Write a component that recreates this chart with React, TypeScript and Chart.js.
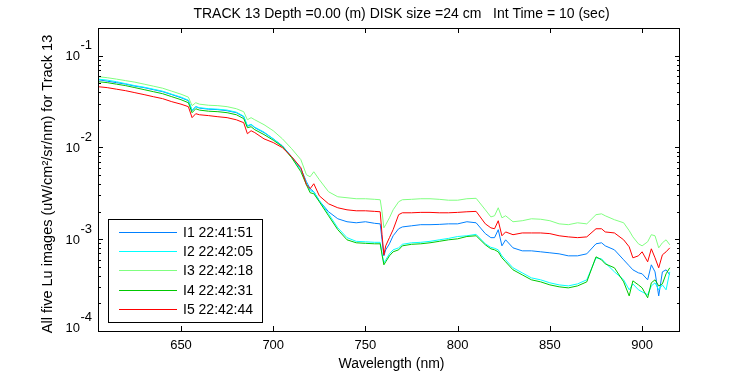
import React, { useEffect, useRef } from "react";
import { Chart, registerables } from "chart.js";

Chart.register(...registerables);

const wavelengths = [
  605, 610, 615, 620, 625, 630, 635, 640, 645, 650,
  654, 656, 658, 660, 665, 670, 675, 680, 684, 686,
  688, 690, 695, 700, 705, 710, 715, 718, 720, 722,
  725, 730, 735, 740, 745, 750, 755, 758, 759, 760,
  761, 763, 765, 768, 770, 775, 780, 785, 790, 795,
  800, 805, 810, 815, 818, 820, 822, 824, 826, 830,
  835, 840, 845, 850, 855, 860, 865, 870, 875, 878,
  880, 885, 890, 893, 895, 898, 900, 903, 905, 907,
  909, 911, 913, 915,
];

const i1Values = [
  0.0547, 0.0527, 0.0508, 0.0489, 0.0465, 0.0448, 0.0426, 0.0405, 0.0376, 0.0348,
  0.0323, 0.0251, 0.0278, 0.0268, 0.0261, 0.0258, 0.0251, 0.0239, 0.0216, 0.0170,
  0.0177, 0.0164, 0.0145, 0.0124, 0.0104, 0.00792, 0.00586, 0.00423, 0.00355, 0.00329,
  0.00262, 0.00199, 0.00167, 0.00155, 0.00151, 0.00155, 0.00149, 0.00147, 0.000985, 0.000659,
  0.000766, 0.000891, 0.00109, 0.0013, 0.00136, 0.0014, 0.00144, 0.00144, 0.00145, 0.00147,
  0.00147, 0.00155, 0.00151, 0.00115, 0.00104, 0.00104, 0.00127, 0.000847, 0.000985, 0.000805,
  0.000747, 0.000747, 0.000729, 0.000711, 0.000693, 0.000659, 0.000659, 0.000693, 0.000891, 0.000914,
  0.000847, 0.000766, 0.000596, 0.000513, 0.000464, 0.00043, 0.00042, 0.000361, 0.000526, 0.000441,
  0.000241, 0.000441, 0.000464, 0.000409,
];

const i2Values = [
  0.0555, 0.0541, 0.052, 0.0495, 0.0471, 0.0453, 0.0431, 0.041, 0.038, 0.0353,
  0.0327, 0.0255, 0.0278, 0.0271, 0.0264, 0.0261, 0.0255, 0.0242, 0.0219, 0.0172,
  0.0179, 0.0166, 0.0147, 0.0124, 0.0103, 0.00782, 0.00571, 0.00412, 0.00337, 0.00329,
  0.00262, 0.00189, 0.00133, 0.00104, 0.000948, 0.000937, 0.000925, 0.000925, 0.000693, 0.000553,
  0.000596, 0.000693, 0.000766, 0.000805, 0.00088, 0.000914, 0.000925, 0.000948, 0.000985, 0.00102,
  0.00107, 0.00109, 0.00113, 0.000891, 0.000815, 0.000796, 0.000766, 0.000659, 0.000596, 0.000488,
  0.00043, 0.000379, 0.000361, 0.000335, 0.000318, 0.00031, 0.000326, 0.000361, 0.000627, 0.000611,
  0.000553, 0.000441, 0.000361, 0.000281, 0.000326, 0.000281, 0.000267, 0.000248, 0.00031, 0.000335,
  0.000281, 0.000318, 0.000281, 0.000441,
];

const i3Values = [
  0.059, 0.0575, 0.0555, 0.0534, 0.0514, 0.0489, 0.0465, 0.0442, 0.041, 0.038,
  0.0353, 0.0285, 0.0307, 0.0296, 0.0288, 0.0285, 0.0278, 0.0264, 0.0245, 0.02,
  0.0211, 0.02, 0.0177, 0.0152, 0.0124, 0.00968, 0.00735, 0.00504, 0.00479, 0.00543,
  0.00445, 0.00329, 0.0029, 0.00283, 0.00276, 0.00276, 0.00272, 0.00269, 0.00199, 0.00133,
  0.00144, 0.00171, 0.00209, 0.00256, 0.00269, 0.00272, 0.00276, 0.00276, 0.00272, 0.00266,
  0.00266, 0.00276, 0.00279, 0.00209, 0.00175, 0.0018, 0.0022, 0.00171, 0.0018, 0.00155,
  0.00159, 0.00167, 0.00165, 0.00159, 0.00147, 0.00144, 0.00151, 0.00147, 0.00185, 0.00189,
  0.0018, 0.00163, 0.00151, 0.00124, 0.00106, 0.000891, 0.000847, 0.000937, 0.00112, 0.00109,
  0.000805, 0.000914, 0.000985, 0.000869,
];

const i4Values = [
  0.052, 0.0508, 0.0489, 0.0471, 0.0448, 0.0426, 0.0405, 0.0385, 0.0357, 0.0331,
  0.0307, 0.0239, 0.0264, 0.0255, 0.0248, 0.0245, 0.0239, 0.0227, 0.0206, 0.0164,
  0.0168, 0.0156, 0.0138, 0.012, 0.0102, 0.00772, 0.00543, 0.00392, 0.00321, 0.00313,
  0.00256, 0.0018, 0.00127, 0.000985, 0.000914, 0.000902, 0.000891, 0.000891, 0.000676, 0.000526,
  0.000567, 0.000659, 0.000729, 0.000766, 0.000847, 0.00088, 0.000891, 0.000914, 0.000948, 0.000985,
  0.00101, 0.00107, 0.00109, 0.000869, 0.000786, 0.000766, 0.000729, 0.000627, 0.000567, 0.000464,
  0.000409, 0.000361, 0.000343, 0.000318, 0.000303, 0.000295, 0.00031, 0.000343, 0.000643, 0.000596,
  0.000539, 0.000488, 0.000343, 0.000241, 0.000352, 0.000318, 0.000295, 0.00023, 0.000335, 0.000361,
  0.00031, 0.000326, 0.00042, 0.000488,
];

const i5Values = [
  0.0459, 0.0448, 0.0431, 0.0415, 0.0395, 0.0376, 0.0357, 0.034, 0.0315, 0.0296,
  0.0278, 0.0211, 0.0233, 0.0227, 0.0222, 0.0216, 0.0211, 0.02, 0.0186, 0.0141,
  0.0152, 0.0145, 0.0124, 0.0113, 0.00993, 0.00792, 0.00601, 0.00392, 0.00355, 0.00402,
  0.00297, 0.00243, 0.0022, 0.00209, 0.00204, 0.00204, 0.00201, 0.00199, 0.00112, 0.000676,
  0.000847, 0.00104, 0.00127, 0.00185, 0.00194, 0.00194, 0.00196, 0.00196, 0.00194, 0.00194,
  0.00196, 0.00199, 0.00201, 0.00147, 0.00133, 0.0013, 0.00159, 0.00109, 0.0012, 0.00112,
  0.00117, 0.00117, 0.00117, 0.00115, 0.00109, 0.00106, 0.00104, 0.00106, 0.0013, 0.0013,
  0.0012, 0.00117, 0.000985, 0.000826, 0.000627, 0.000659, 0.000729, 0.000567, 0.000786, 0.000627,
  0.000488, 0.000676, 0.000729, 0.000805,
];

const seriesValues = [i1Values, i2Values, i3Values, i4Values, i5Values];
const seriesLabels = ["I1 22:41:51", "I2 22:42:05", "I3 22:42:18", "I4 22:42:31", "I5 22:42:44"];
const seriesColors = ["#0080ff", "#00ffff", "#80ff80", "#00c800", "#ff0000"];

const xTickValues = [650, 700, 750, 800, 850, 900];
const yDecadeExponents = [-4, -3, -2, -1];

const titleText = "TRACK 13 Depth =0.00 (m) DISK size =24 cm   Int Time = 10 (sec)";
const xAxisTitle = "Wavelength (nm)";
const yAxisTitle = "All five Lu images (uW/cm\u00B2/sr/nm) for Track 13";

const FONT = '"Liberation Sans", Arial, sans-serif';

const decorPlugin = {
  id: "decor",
  afterDraw(chart: any) {
    const ctx: CanvasRenderingContext2D = chart.ctx;
    const { left, right, top, bottom } = chart.chartArea;
    const xs = chart.scales.x;
    const ys = chart.scales.y;
    ctx.save();
    ctx.strokeStyle = "#000";
    ctx.fillStyle = "#000";
    ctx.lineWidth = 1;

    // frame
    ctx.strokeRect(left + 0.5, top + 0.5, right - left, bottom - top);

    // ticks
    ctx.beginPath();
    xTickValues.forEach((v) => {
      const px = Math.round(xs.getPixelForValue(v)) + 0.5;
      ctx.moveTo(px, bottom + 1);
      ctx.lineTo(px, bottom - 5);
      ctx.moveTo(px, top);
      ctx.lineTo(px, top + 5);
    });
    yDecadeExponents.forEach((d) => {
      for (let m = 1; m < 10; m++) {
        const v = m * Math.pow(10, d);
        if (v > ys.max * 1.0001) continue;
        const py = Math.round(ys.getPixelForValue(v)) + 0.5;
        const len = m === 1 ? 5 : 3;
        ctx.moveTo(left, py);
        ctx.lineTo(left + len, py);
        ctx.moveTo(right + 1, py);
        ctx.lineTo(right + 1 - len, py);
      }
    });
    ctx.stroke();

    // x tick labels
    ctx.font = `13px ${FONT}`;
    ctx.textAlign = "center";
    ctx.textBaseline = "middle";
    xTickValues.forEach((v) => {
      ctx.fillText(String(v), xs.getPixelForValue(v), 345.5);
    });

    // y tick labels (10 with exponent)
    yDecadeExponents.forEach((d) => {
      const py = ys.getPixelForValue(Math.pow(10, d));
      const base = Math.min(py + 1, bottom - 3);
      ctx.textAlign = "right";
      ctx.fillText("10", 80, base);
      ctx.textAlign = "left";
      ctx.fillText("-" + String(-d), 80.5, base - 11);
    });

    // x axis title
    ctx.font = `14px ${FONT}`;
    ctx.textAlign = "center";
    ctx.fillText(xAxisTitle, 391.5, 364);

    // chart title
    ctx.fillText(titleText, 401.5, 14);

    // y axis title
    ctx.save();
    ctx.translate(48, 184);
    ctx.rotate(-Math.PI / 2);
    ctx.font = `14.5px ${FONT}`;
    ctx.fillText(yAxisTitle, 0, 0);
    ctx.restore();

    // legend
    const lx = 108, ly = 219, lw = 154, lh = 103;
    ctx.fillStyle = "#fff";
    ctx.fillRect(lx, ly, lw, lh);
    ctx.strokeStyle = "#000";
    ctx.strokeRect(lx + 0.5, ly + 0.5, lw, lh);
    ctx.font = `14px ${FONT}`;
    ctx.textAlign = "left";
    ctx.textBaseline = "middle";
    chart.data.datasets.forEach((ds: any, i: number) => {
      const yy = Math.round(231.7 + i * 19.3) + 0.5;
      ctx.strokeStyle = ds.borderColor;
      ctx.beginPath();
      ctx.moveTo(119, yy);
      ctx.lineTo(177, yy);
      ctx.stroke();
      ctx.fillStyle = "#000";
      ctx.fillText(ds.label, 183, yy + 0.5);
    });

    ctx.restore();
  },
};

export default function App() {
  const canvasRef = useRef<HTMLCanvasElement | null>(null);

  useEffect(() => {
    document.body.style.margin = "0";
    const canvas = canvasRef.current;
    if (!canvas) return;
    const chart = new Chart(canvas, {
      type: "line",
      data: {
        datasets: seriesValues.map((vals, i) => ({
          label: seriesLabels[i],
          data: wavelengths.map((w, j) => ({ x: w, y: vals[j] })),
          borderColor: seriesColors[i],
          backgroundColor: seriesColors[i],
          borderWidth: 1,
          pointRadius: 0,
          tension: 0,
          fill: false,
          order: 4 - i,
        })),
      },
      options: {
        animation: false,
        responsive: false,
        devicePixelRatio: 1,
        layout: { padding: { left: 98, right: 71, top: 28, bottom: 44 } },
        plugins: {
          legend: { display: false },
          title: { display: false },
          tooltip: { enabled: false },
        },
        scales: {
          x: { type: "linear", min: 605, max: 920, display: false },
          y: { type: "logarithmic", min: 0.0001, max: 0.2, display: false },
        },
      },
      plugins: [decorPlugin],
    });
    return () => chart.destroy();
  }, []);

  return (
    <div style={{ width: 750, height: 375, background: "#fff" }}>
      <canvas ref={canvasRef} width={750} height={375} style={{ display: "block" }} />
    </div>
  );
}
